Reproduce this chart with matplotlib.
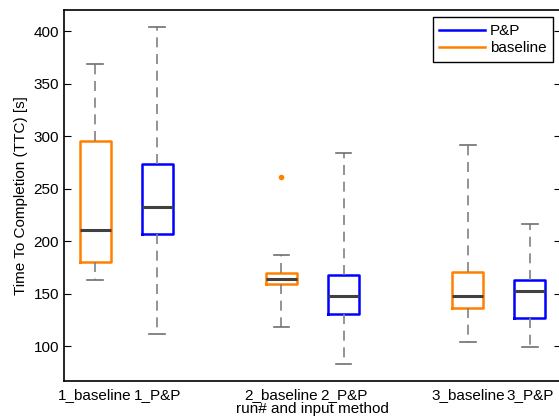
import matplotlib
matplotlib.use("Agg")
import matplotlib.pyplot as plt
from matplotlib.lines import Line2D

plt.rcParams['font.family'] = ['Liberation Sans', 'DejaVu Sans']
plt.rcParams['font.size'] = 11

labels = ['1_baseline', '1_P&P', '2_baseline', '2_P&P', '3_baseline', '3_P&P']
positions = [1, 2, 4, 5, 7, 8]
whislo = [163, 112, 118, 83, 104, 99]
q1 = [180, 207, 159, 131, 136, 127]
med = [211, 233, 164, 148, 148, 153]
q3 = [295, 273, 170, 168, 171, 163]
whishi = [369, 404, 187, 284, 292, 216]
fliers = [[], [], [261], [], [], []]
methods = ['baseline', 'P&P', 'baseline', 'P&P', 'baseline', 'P&P']

colors = {'baseline': '#ff8000', 'P&P': '#0000ff'}

stats = []
for i in range(len(labels)):
    stats.append(dict(label=labels[i], whislo=whislo[i], q1=q1[i], med=med[i],
                      q3=q3[i], whishi=whishi[i], fliers=fliers[i]))

fig = plt.figure(figsize=(5.59, 4.16), dpi=100)
ax = fig.add_axes([64 / 559, 35 / 416, 497 / 559, 371 / 416])

bp = ax.bxp(stats, positions=positions, widths=0.5, showfliers=True,
            whiskerprops=dict(color='#808080', linestyle=(0, (6, 4)), linewidth=1.2),
            capprops=dict(color='#707070', linewidth=1.2),
            medianprops=dict(color='#404040', linewidth=2.2),
            boxprops=dict(linewidth=1.8))
for i, box in enumerate(bp['boxes']):
    box.set_color(colors[methods[i]])
for i, fl in enumerate(bp['fliers']):
    fl.set_marker('o')
    fl.set_markersize(3)
    fl.set_markerfacecolor(colors[methods[i]])
    fl.set_markeredgecolor(colors[methods[i]])

ax.set_xlim(0.5, 8.5)
ax.set_ylim(67, 420)
ax.set_yticks([100, 150, 200, 250, 300, 350, 400])
ax.set_xticks(positions)
ax.set_xticklabels(labels)
ax.tick_params(direction='in', right=True, length=5)
ax.tick_params(axis='x', length=0, pad=5)
for s in ax.spines.values():
    s.set_linewidth(1.2)

ax.set_ylabel('Time To Completion (TTC) [s]', labelpad=4)
ax.set_xlabel('run# and input method', labelpad=0)

handles = [Line2D([0], [0], color=colors['P&P'], lw=1.8),
           Line2D([0], [0], color=colors['baseline'], lw=1.8)]
leg = ax.legend(handles, ['P&P', 'baseline'], loc='upper right',
                bbox_to_anchor=(0.984, 0.981), fancybox=False, framealpha=1,
                edgecolor='black', borderaxespad=0, handlelength=2.95,
                handletextpad=0.33, borderpad=0.45, labelspacing=0.2)
leg.get_frame().set_linewidth(1.0)

fig.savefig('out.png', dpi=100)
